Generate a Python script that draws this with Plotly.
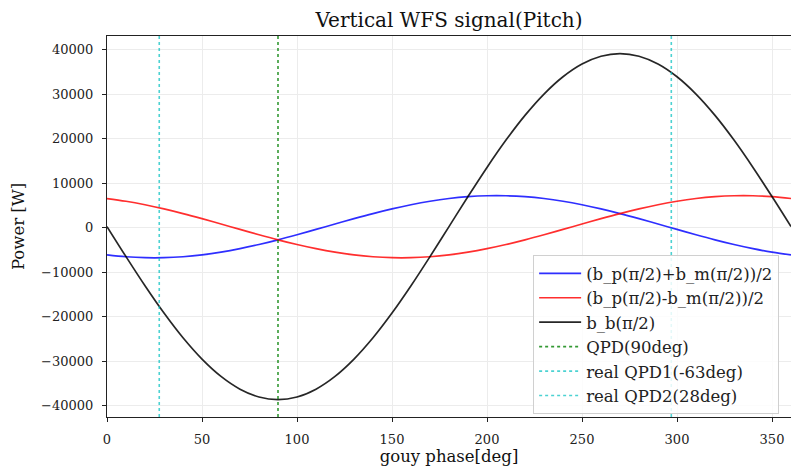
import plotly.graph_objects as go

# ---- data ----
gouy_deg = [0, 10, 20, 30, 40, 50, 60, 70, 80, 90, 100, 110, 120, 130, 140, 150, 160, 170, 180,
            190, 200, 210, 220, 230, 240, 250, 260, 270, 280, 290, 300, 310, 320, 330, 340, 350, 360]

sum_signal = [-6076, -6492, -6703, -6703, -6492, -6076, -5467, -4684, -3751, -2697, -1553, -354,
              864, 2063, 3207, 4261, 5194, 5977, 6586, 7002, 7213, 7213, 7002, 6586, 5977, 5194,
              4261, 3207, 2063, 864, -354, -1553, -2697, -3751, -4684, -5467, -6076]

diff_signal = [6586, 5977, 5194, 4261, 3207, 2063, 864, -354, -1553, -2697, -3751, -4684, -5467,
               -6076, -6492, -6703, -6703, -6492, -6076, -5467, -4684, -3751, -2697, -1553, -354,
               864, 2063, 3207, 4261, 5194, 5977, 6586, 7002, 7213, 7213, 7002, 6586]

bb_signal = [280, -6469, -13014, -19155, -24705, -29494, -33382, -36246, -37999, -38590, -37999,
             -36246, -33382, -29494, -24705, -19155, -13014, -6469, 280, 7029, 13574, 19715, 25265,
             30054, 33942, 36806, 38559, 39150, 38559, 36806, 33942, 30054, 25265, 19715, 13574,
             7029, 280]

qpd_positions = [90, 297, 27.5]
qpd_names = ["QPD(90deg)", "real QPD1(-63deg)", "real QPD2(28deg)"]
qpd_colors = ["rgba(0,128,0,0.8)", "rgba(0,191,191,0.7)", "rgba(0,191,191,0.7)"]

x_ticks = [0, 50, 100, 150, 200, 250, 300, 350]
y_ticks = [-40000, -30000, -20000, -10000, 0, 10000, 20000, 30000, 40000]
y_range = [-42500, 43100]

font = "DejaVu Serif"

fig = go.Figure()
fig.add_trace(go.Scatter(x=gouy_deg, y=sum_signal, mode="lines", line_shape="spline",
                         name="(b_p(π/2)+b_m(π/2))/2",
                         line=dict(color="rgba(0,0,255,0.82)", width=1.7)))
fig.add_trace(go.Scatter(x=gouy_deg, y=diff_signal, mode="lines", line_shape="spline",
                         name="(b_p(π/2)-b_m(π/2))/2",
                         line=dict(color="rgba(255,0,0,0.82)", width=1.7)))
fig.add_trace(go.Scatter(x=gouy_deg, y=bb_signal, mode="lines", line_shape="spline",
                         name="b_b(π/2)",
                         line=dict(color="rgba(0,0,0,0.85)", width=1.7)))
for pos, nm, col in zip(qpd_positions, qpd_names, qpd_colors):
    fig.add_trace(go.Scatter(x=[pos, pos], y=y_range, mode="lines", name=nm,
                             line=dict(color=col, width=1.6, dash="dot")))

fig.update_layout(
    width=791, height=467,
    margin=dict(l=107, r=0, t=36, b=50),
    paper_bgcolor="white", plot_bgcolor="white",
    font=dict(family=font, size=12, color="#222"),
    title=dict(text="Vertical WFS signal(Pitch)", x=(107 + 791) / 2 / 791, xanchor="center",
               y=1 - 20 / 467, yanchor="middle", font=dict(family=font, size=20, color="#111")),
    showlegend=True,
    legend=dict(x=0.623, y=0.425, xanchor="left", yanchor="top",
                bgcolor="rgba(255,255,255,0.85)", bordercolor="#d0d0d0", borderwidth=1,
                font=dict(family=font, size=16.5, color="#222"),
                tracegroupgap=0, itemwidth=42),
)
fig.update_xaxes(range=[0, 360], tickvals=x_ticks, ticks="outside", ticklen=4, tickcolor="#222",
                 showline=True, linecolor="#222", linewidth=1.2, mirror=True,
                 showgrid=True, gridcolor="#ececec", gridwidth=1, zeroline=False,
                 ticklabelstandoff=6,
                 title=dict(text="gouy phase[deg]", font=dict(family=font, size=16.5, color="#111"),
                            standoff=4),
                 tickfont=dict(family=font, size=13, color="#222"))
fig.update_yaxes(range=y_range, tickvals=y_ticks, tickformat="d", ticks="outside", ticklen=4,
                 tickcolor="#222", showline=True, linecolor="#222", linewidth=1.2, mirror=False,
                 showgrid=True, gridcolor="#ececec", gridwidth=1, zeroline=False,
                 ticklabelstandoff=6,
                 title=dict(text="Power [W]", font=dict(family=font, size=16.5, color="#111"),
                            standoff=12),
                 tickfont=dict(family=font, size=13, color="#222"))

fig.write_html("out.html")
